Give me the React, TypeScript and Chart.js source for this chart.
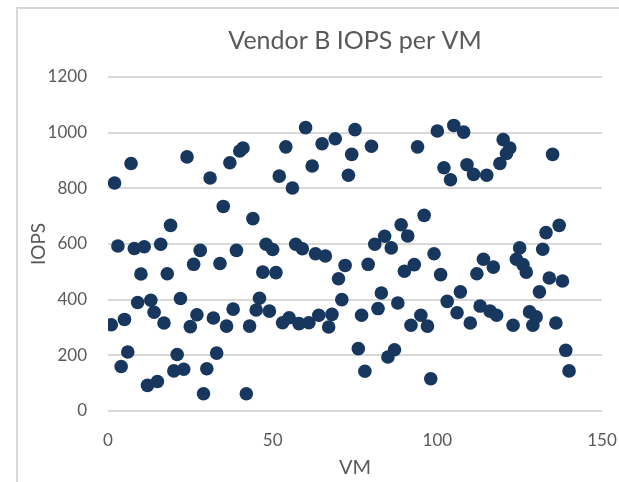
import React, { useEffect, useRef } from "react";
import { Chart, registerables } from "chart.js";

Chart.register(...registerables);

const chartTitle = "Vendor B IOPS per VM";
const xAxisTitle = "VM";
const yAxisTitle = "IOPS";

const vmIds: number[] = Array.from({ length: 140 }, (_, i) => i + 1);

const iops: number[] = [
  310, 819, 593, 160, 329, 212, 889, 584, 390, 492,
  590, 92, 398, 355, 106, 599, 316, 493, 667, 144,
  203, 404, 150, 913, 303, 527, 346, 577, 62, 152,
  837, 334, 208, 530, 735, 305, 892, 366, 577, 934,
  945, 62, 305, 691, 363, 405, 499, 599, 359, 580,
  497, 844, 317, 949, 335, 801, 599, 314, 583, 1018,
  317, 880, 565, 344, 960, 557, 302, 347, 978, 475,
  400, 523, 847, 922, 1011, 224, 344, 143, 527, 951,
  599, 368, 424, 628, 194, 586, 220, 388, 669, 502,
  629, 308, 526, 949, 344, 703, 305, 116, 565, 1006,
  490, 874, 394, 831, 1026, 353, 428, 1002, 885, 316,
  850, 493, 377, 545, 847, 359, 517, 344, 889, 975,
  925, 945, 308, 545, 586, 526, 499, 356, 308, 338,
  428, 581, 641, 478, 922, 316, 667, 467, 218, 144,
];

const xTicks = { min: 0, max: 150, step: 50 };
const yTicks = { min: 0, max: 1200, step: 200 };

const FONT = "Lato, 'Open Sans', sans-serif";
const TEXT = "#595959";
const GRID = "#d9d9d9";
const DOT = "#17375e";

const titlePlugin = {
  id: "centeredTitle",
  afterDraw(chart: any) {
    const { ctx, chartArea } = chart;
    ctx.save();
    ctx.fillStyle = TEXT;
    ctx.font = `25px ${FONT}`;
    ctx.textAlign = "center";
    ctx.textBaseline = "alphabetic";
    ctx.fillText(chartTitle, (chartArea.left + chartArea.right) / 2, 49);
    ctx.restore();
  },
};

export default function App() {
  const ref = useRef<HTMLCanvasElement | null>(null);

  useEffect(() => {
    document.body.style.margin = "0";
    const canvas = ref.current;
    if (!canvas) return;
    const points = vmIds.map((x, i) => ({ x, y: iops[i] }));
    const chart = new Chart(canvas, {
      type: "scatter",
      data: {
        datasets: [
          {
            label: "IOPS",
            data: points,
            backgroundColor: DOT,
            borderColor: DOT,
            borderWidth: 0,
            pointRadius: 6.8,
            pointHoverRadius: 6.8,
          },
        ],
      },
      plugins: [titlePlugin],
      options: {
        responsive: false,
        animation: false,
        events: [],
        layout: { padding: { left: 17, right: 17, top: 77, bottom: 0 } },
        plugins: {
          legend: { display: false },
          tooltip: { enabled: false },
          title: { display: false },
        },
        scales: {
          x: {
            type: "linear",
            min: xTicks.min,
            max: xTicks.max,
            afterFit: (s: any) => {
              s.height = 71;
              s.paddingLeft = 0;
              s.paddingRight = 0;
            },
            ticks: {
              stepSize: xTicks.step,
              color: TEXT,
              font: { family: FONT, size: 17 },
              padding: 19,
              callback: (v: any) => String(v),
            },
            grid: { display: false, drawTicks: false },
            border: { display: false },
            title: {
              display: true,
              text: xAxisTitle,
              color: TEXT,
              font: { family: FONT, size: 20 },
              padding: { top: 0, bottom: 2 },
            },
          },
          y: {
            type: "linear",
            min: yTicks.min,
            max: yTicks.max,
            afterFit: (s: any) => {
              s.width = 91;
            },
            ticks: {
              stepSize: yTicks.step,
              color: TEXT,
              font: { family: FONT, size: 17 },
              padding: 21,
              callback: (v: any) => String(v),
            },
            grid: { color: GRID, lineWidth: 2, drawTicks: false },
            border: { display: false },
            title: {
              display: true,
              text: yAxisTitle,
              color: TEXT,
              font: { family: FONT, size: 19 },
              padding: { top: 10, bottom: 0 },
            },
          },
        },
      },
    });
    return () => chart.destroy();
  }, []);

  return (
    <div style={{ position: "fixed", left: 0, top: 0, width: 619, height: 482, background: "#fff", overflow: "hidden" }}>
      <div
        style={{
          position: "absolute",
          left: 16,
          top: 7,
          width: 700,
          height: 600,
          borderLeft: `2px solid ${GRID}`,
          borderTop: `2px solid ${GRID}`,
        }}
      />
      <canvas ref={ref} width={619} height={482} style={{ position: "absolute", left: 0, top: 0 }} />
    </div>
  );
}
